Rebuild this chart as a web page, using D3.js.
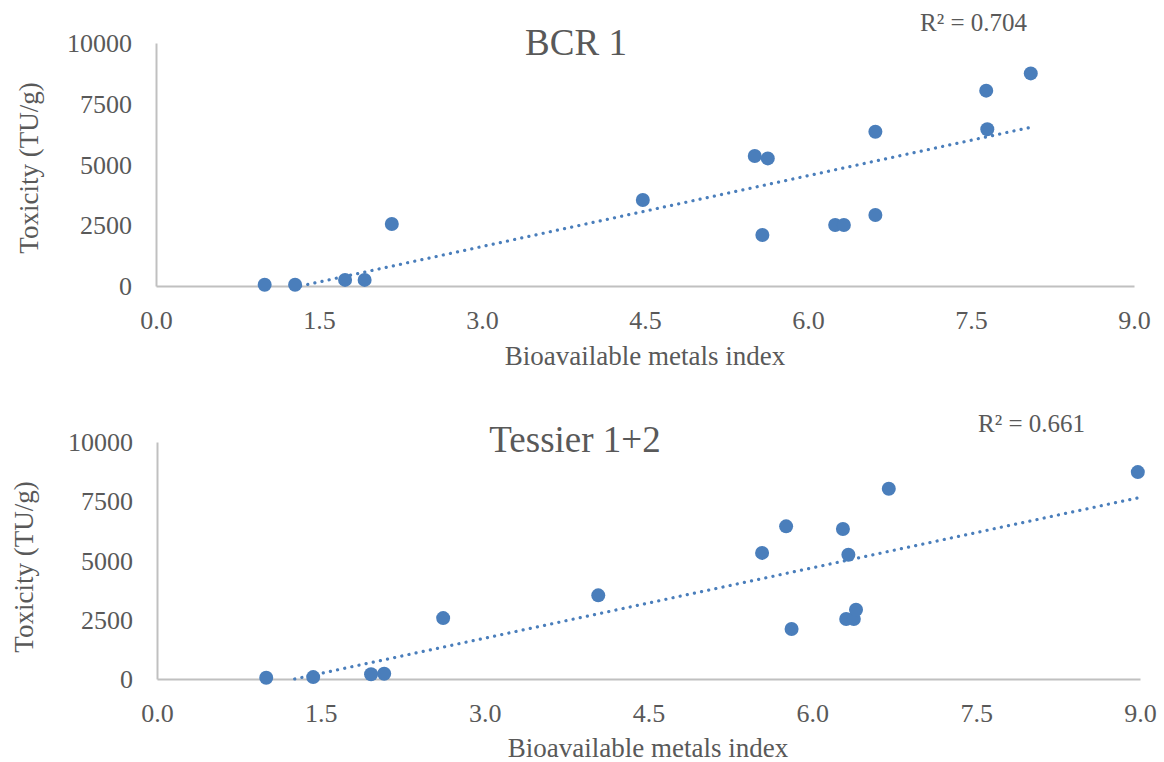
<!DOCTYPE html>
<html>
<head>
<meta charset="utf-8">
<script src="https://cdn.jsdelivr.net/npm/d3@7"></script>
<style>
    body { margin: 0; background: #fff; }
    svg { display: block; }
</style>
</head>
<body>
<div id="chart"></div>
<script>
// ---- data ----
let xTicks = [0, 1.5, 3.0, 4.5, 6.0, 7.5, 9.0]
let yTicks = [0, 2500, 5000, 7500, 10000]

// BCR 1
let bcrX = [1.00, 1.28, 1.74, 1.92, 2.17, 4.48, 5.51, 5.63, 5.58, 6.25, 6.33, 6.62, 6.62, 7.64, 7.65, 8.05]
let bcrY = [50, 50, 250, 250, 2550, 3540, 5350, 5250, 2100, 2510, 2510, 2920, 6350, 8040, 6450, 8750]
let bcrTrend = [972, -1293]      // slope, intercept
let bcrTrendX = [1.0, 8.05]

// Tessier 1+2
let tesX = [1.00, 1.43, 1.96, 2.08, 2.62, 4.04, 5.54, 5.76, 5.81, 6.28, 6.33, 6.31, 6.38, 6.40, 6.70, 8.98]
let tesY = [50, 80, 200, 220, 2570, 3530, 5320, 6440, 2110, 6330, 5240, 2530, 2530, 2920, 8030, 8730]
let tesTrend = [990, -1248]
let tesTrendX = [1.0, 8.98]

let panels = [
    {title: "BCR 1", r2: "R² = 0.704", xs: bcrX, ys: bcrY, trend: bcrTrend, trendX: bcrTrendX,
     left: 156, right: 1134, top: 43, bottom: 286, titleX: 576, titleY: 55, r2X: 920, r2Y: 31,
     xLabelX: 645, xLabelY: 365, yLabelX: 38, yLabelY: 168},
    {title: "Tessier 1+2", r2: "R² = 0.661", xs: tesX, ys: tesY, trend: tesTrend, trendX: tesTrendX,
     left: 157, right: 1140, top: 442, bottom: 679, titleX: 575, titleY: 452, r2X: 978, r2Y: 432,
     xLabelX: 648, xLabelY: 757, yLabelX: 33, yLabelY: 567}
]

let font = "'Liberation Serif', 'Times New Roman', serif"
let textColor = "#595959"
let pointColor = "#4a7ebb"

let svg = d3.select("#chart").append("svg")
    .attr("width", 1164)
    .attr("height", 762)

panels.forEach(p => {
    let g = svg.append("g").attr("class", "panel")

    let x = d3.scaleLinear().domain([0, 9]).range([p.left, p.right])
    let y = d3.scaleLinear().domain([0, 10000]).range([p.bottom, p.top])

    // axes
    let xAxis = d3.axisBottom(x).tickValues(xTicks).tickFormat(d3.format(".1f"))
        .tickSize(0).tickSizeOuter(0).tickPadding(24)
    let yAxis = d3.axisLeft(y).tickValues(yTicks).tickFormat(d3.format("d"))
        .tickSize(0).tickSizeOuter(0).tickPadding(24)

    let gx = g.append("g").attr("class", "axis")
        .attr("transform", `translate(0,${p.bottom})`)
        .call(xAxis)
    let gy = g.append("g").attr("class", "axis")
        .attr("transform", `translate(${p.left},0)`)
        .call(yAxis)

    g.selectAll(".axis").attr("font-family", font).attr("font-size", 26)
    g.selectAll(".axis .domain").attr("stroke", "#c0c0c0").attr("stroke-width", 2)
    g.selectAll(".axis text").attr("fill", textColor)
    gy.selectAll("text").attr("dy", "0.33em")
    gx.selectAll("text").attr("dy", "0.72em")

    // trend line (clipped at y = 0 like the original)
    let x0 = Math.max(p.trendX[0], -p.trend[1] / p.trend[0])
    let line = d3.line().x(d => x(d)).y(d => y(p.trend[0] * d + p.trend[1]))
    g.append("path")
        .datum([x0, p.trendX[1]])
        .attr("d", line)
        .attr("fill", "none")
        .attr("stroke", pointColor)
        .attr("stroke-width", 3.2)
        .attr("stroke-linecap", "round")
        .attr("stroke-dasharray", "0.1 7.2")

    // points
    let pts = p.xs.map((v, i) => ({x: v, y: p.ys[i]}))
    g.selectAll("circle")
        .data(pts)
        .enter().append("circle")
        .attr("cx", d => x(d.x))
        .attr("cy", d => y(d.y))
        .attr("r", 7)
        .attr("fill", pointColor)

    // texts
    g.append("text")
        .attr("x", p.titleX).attr("y", p.titleY)
        .attr("text-anchor", "middle")
        .attr("font-family", font).attr("font-size", 37).attr("fill", textColor)
        .text(p.title)

    g.append("text")
        .attr("x", p.r2X).attr("y", p.r2Y)
        .attr("font-family", font).attr("font-size", 25).attr("fill", textColor)
        .text(p.r2)

    g.append("text")
        .attr("x", p.xLabelX).attr("y", p.xLabelY)
        .attr("text-anchor", "middle")
        .attr("font-family", font).attr("font-size", 27).attr("fill", textColor)
        .text("Bioavailable metals index")

    g.append("text")
        .attr("transform", `translate(${p.yLabelX},${p.yLabelY}) rotate(-90)`)
        .attr("text-anchor", "middle")
        .attr("font-family", font).attr("font-size", 27).attr("fill", textColor)
        .text("Toxicity (TU/g)")
})
</script>
</body>
</html>
